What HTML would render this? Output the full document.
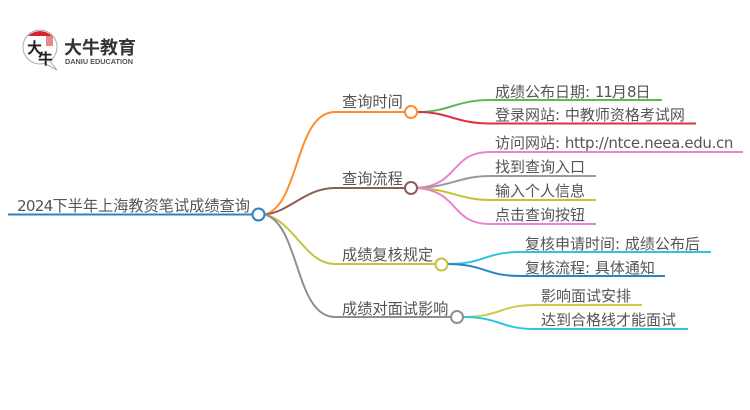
<!DOCTYPE html>
<html><head><meta charset="utf-8"><style>
html,body{margin:0;padding:0;background:#fff;width:750px;height:410px;overflow:hidden}
svg{display:block}
text{font-family:"DejaVu Sans","Noto Sans CJK SC",sans-serif;font-size:15px;fill:#555}
text.big{font-size:15.200px}
path{fill:none;stroke-width:2}
circle{fill:#fff;stroke-width:2}
</style></head><body>
<svg width="750" height="410" viewBox="0 0 750 410" xmlns="http://www.w3.org/2000/svg">
<!-- logo -->
<circle cx="40" cy="47" r="17" style="stroke:#aaa;stroke-width:1;fill:#fff"/>
<path d="M50 61 L57 70 L44 63" style="stroke:#aaa;stroke-width:1;fill:#fff"/>
<path d="M28 36 A17 17 0 0 1 52 36 Z" style="fill:#d9232a;stroke:none"/>
<rect x="46" y="36" width="7" height="10" style="fill:#e58a8a"/>
<text x="27" y="53" style="font-size:15px;fill:#222;font-weight:700">大</text>
<text x="38" y="64" style="font-size:15px;fill:#222;font-weight:700">牛</text>
<text x="64" y="54" style="font-size:18px;font-weight:700;fill:#333;font-family:'Liberation Sans','Noto Sans CJK SC',sans-serif">大牛教育</text>
<text x="65" y="64" style="font-size:7.300px;font-weight:700;fill:#555;font-family:'Liberation Sans',sans-serif">DANIU EDUCATION</text>
<!-- root -->
<path d="M8 214.500H252" style="stroke:#2b83c5"/>
<!-- level 1 -->
<path d="M265 214.500C300 205 295 112 335 112H405" style="stroke:#ff8c2e"/>
<path d="M265 214.500C290 212 305 188 335 188H405" style="stroke:#8c5f55"/>
<path d="M265 214.500C295 222 305 264 335 264H435" style="stroke:#c4c440"/>
<path d="M265 214.500C300 225 295 317 335 317H451" style="stroke:#8f8f8f"/>
<!-- level 2 -->
<path d="M417 112C450 112 455 100 490 100H662" style="stroke:#5cb85c"/>
<path d="M417 112C450 112 455 123.500 490 123.500H696" style="stroke:#d9333f"/>
<path d="M417 188C460 185 450 152 490 152H743" style="stroke:#ea82d0"/>
<path d="M417 188C450 187 460 176 490 176H596" style="stroke:#9a9a9a"/>
<path d="M417 188C450 189 460 200 490 200H596" style="stroke:#c4c430"/>
<path d="M417 188C460 191 450 224 490 224H596" style="stroke:#ea82d0"/>
<path d="M447 264C485 264 485 252 520 252H711" style="stroke:#2cc5dc"/>
<path d="M447 264C485 264 485 276 520 276H665" style="stroke:#2b83c5"/>
<path d="M463 317C500 317 500 305 535 305H642" style="stroke:#cfc94a"/>
<path d="M463 317C500 317 500 329 535 329H688" style="stroke:#2cc5dc"/>
<!-- nodes -->
<circle cx="258.500" cy="214.500" r="6" stroke="#2b83c5"/>
<circle cx="411" cy="112" r="6" stroke="#ff8c2e"/>
<circle cx="411" cy="188" r="6" stroke="#8c5f55"/>
<circle cx="441.500" cy="264.500" r="6" stroke="#c4c440"/>
<circle cx="457" cy="317" r="6" stroke="#8f8f8f"/>
<!-- labels -->
<text class="big" x="17" y="211"><tspan letter-spacing="-0.8">2024</tspan>下半年上海教资笔试成绩查询</text>
<text class="big" x="342" y="107">查询时间</text>
<text class="big" x="342" y="184">查询流程</text>
<text class="big" x="342" y="260">成绩复核规定</text>
<text class="big" x="342" y="314">成绩对面试影响</text>
<text x="495" y="97">成绩公布日期: <tspan letter-spacing="-1">11</tspan>月<tspan letter-spacing="-1">8</tspan>日</text>
<text x="495" y="120">登录网站: 中教师资格考试网</text>
<text x="495" y="148">访问网站: <tspan letter-spacing="-0.35">http://ntce.neea.edu.cn</tspan></text>
<text x="495" y="172">找到查询入口</text>
<text x="495" y="196">输入个人信息</text>
<text x="495" y="220">点击查询按钮</text>
<text x="525" y="249">复核申请时间: 成绩公布后</text>
<text x="525" y="273">复核流程: 具体通知</text>
<text x="541" y="301">影响面试安排</text>
<text x="541" y="325">达到合格线才能面试</text>
</svg>
</body></html>
